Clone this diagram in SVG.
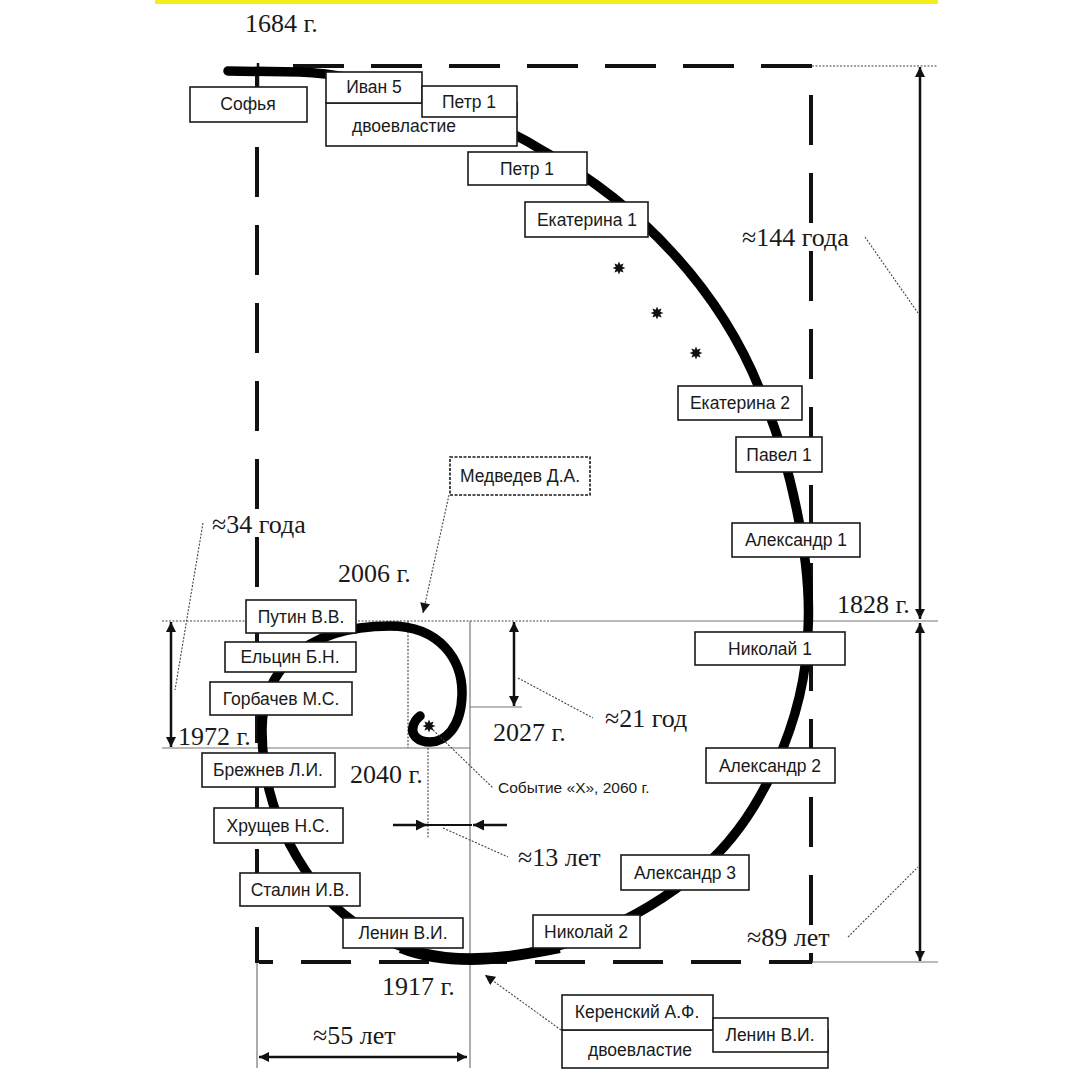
<svg xmlns="http://www.w3.org/2000/svg" width="1080" height="1080" viewBox="0 0 1080 1080">
<style>
.box{fill:#fff;stroke:#1a1a1a;stroke-width:1.6}
.lbl{font-family:"Liberation Sans",Arial,sans-serif;font-size:17.5px;fill:#1a1a1a;text-anchor:middle}
.yr{font-family:"Liberation Serif","Times New Roman",serif;font-size:26px;fill:#1a1a1a}
.dash{stroke:#111;stroke-width:4;stroke-dasharray:50 28;fill:none}
.thin{stroke:#777;stroke-width:1.2;fill:none}
.dot{stroke:#444;stroke-width:1.1;stroke-dasharray:2 1.5;fill:none}
.dim{stroke:#111;stroke-width:2.5;fill:none;marker-start:url(#ah);marker-end:url(#ah)}
.spiral{stroke:#000;stroke-width:9.5;fill:none;stroke-linecap:round;stroke-linejoin:round}
</style>
<defs>
<marker id="ah" viewBox="0 0 10 10" refX="10" refY="5" markerWidth="15" markerHeight="10" markerUnits="userSpaceOnUse" orient="auto-start-reverse"><path d="M0,0 L10,5 L0,10 z" fill="#111"/></marker>
<marker id="ah2" viewBox="0 0 10 10" refX="10" refY="5" markerWidth="16" markerHeight="11" markerUnits="userSpaceOnUse" orient="auto"><path d="M0,0 L10,5 L0,10 z" fill="#111"/></marker>
<path id="star" d="M6.5,0 L3.2,1.3 L4.6,4.6 L1.3,3.2 L0,6.5 L-1.3,3.2 L-4.6,4.6 L-3.2,1.3 L-6.5,0 L-3.2,-1.3 L-4.6,-4.6 L-1.3,-3.2 L0,-6.5 L1.3,-3.2 L4.6,-4.6 L3.2,-1.3 Z" fill="#111"/>
</defs>
<rect width="1080" height="1080" fill="#fff"/>
<rect x="155" y="0" width="783" height="4" fill="#f4ee1c"/>

<g id="guides">
<line class="dash" x1="293" y1="66" x2="812" y2="66" style="stroke-dasharray:51 27"/>
<line class="dot" x1="812" y1="66" x2="938" y2="66"/>
<line class="dash" x1="257" y1="69" x2="257" y2="963"/>
<line class="dash" x1="811" y1="95" x2="811" y2="963"/>
<line class="dash" x1="259" y1="962" x2="273" y2="962" style="stroke-dasharray:none"/>
<line class="dash" x1="301" y1="962" x2="812" y2="962"/>
<line class="thin" x1="812" y1="962" x2="938" y2="962"/>
<line class="dot" x1="162" y1="621" x2="550" y2="621"/>
<line class="thin" x1="550" y1="621" x2="938" y2="621"/>
<line class="thin" x1="162" y1="748" x2="470" y2="748"/>
<line class="thin" x1="470" y1="621" x2="470" y2="1068"/>
<line class="dot" x1="408" y1="621" x2="408" y2="748"/>
<line class="dot" x1="428" y1="748" x2="428" y2="838"/>
<line class="thin" x1="470" y1="707" x2="522" y2="707"/>
<line class="thin" x1="257" y1="963" x2="257" y2="1068"/>
<line x1="258" y1="63" x2="258" y2="87" stroke="#111" stroke-width="2.5"/>
</g>

<g id="connectors">
<path class="spiral" d="M228 71 L300 72 C360 74 470 105 545 152 C640 205 720 290 760 390 C790 460 812 560 808 630 C806 720 760 820 700 870 C640 920 560 958 471 958 C400 958 340 925 305 870 C275 825 262 780 262 730 C262 675 300 626 390 626 C440 626 463 660 462 695 C461 728 445 742 430 742 C418 742 411 735 413 727 C414 722 416 719 420 716"/>
<path d="M560 950 C520 958 490 962 471 962 C440 962 420 958 400 950" stroke="#000" stroke-width="6" fill="none"/>
<line class="dim" x1="920" y1="67" x2="920" y2="619"/>
<line class="dim" x1="920" y1="623" x2="920" y2="961"/>
<line class="dim" x1="171" y1="622" x2="171" y2="747"/>
<line class="dim" x1="514" y1="622" x2="514" y2="706"/>
<line class="dim" x1="259" y1="1057" x2="467" y2="1057"/>
<line x1="393" y1="825" x2="427" y2="825" stroke="#111" stroke-width="2.5" marker-end="url(#ah2)"/>
<line x1="507" y1="825" x2="473" y2="825" stroke="#111" stroke-width="2.5" marker-end="url(#ah2)"/>
<line x1="427" y1="825" x2="472" y2="825" stroke="#111" stroke-width="2"/>
<line class="dot" x1="865" y1="237" x2="918" y2="313"/>
<line class="dot" x1="848" y1="937" x2="918" y2="867"/>
<line class="dot" x1="203" y1="523" x2="175" y2="690"/>
<line class="dot" x1="518" y1="678" x2="593" y2="718"/>
<line class="dot" x1="433" y1="730" x2="493" y2="788"/>
<line class="dot" x1="443" y1="828" x2="508" y2="857"/>
<line class="dot" x1="449" y1="495" x2="423" y2="613" marker-end="url(#ah)"/>
<line class="dot" x1="561" y1="1030" x2="485" y2="975" marker-end="url(#ah)"/>
<use href="#star" x="619" y="268"/>
<use href="#star" x="657" y="313"/>
<use href="#star" x="696" y="353"/>
<use href="#star" x="429" y="726"/>
</g>

<g id="n-sofya"><rect class="box" x="190" y="87" width="117" height="35"/><text class="lbl" x="248" y="110">Софья</text></g>
<g id="n-dvoev1"><rect class="box" x="326" y="103" width="191" height="43"/><text class="lbl" x="404" y="132">двоевластие</text></g>
<g id="n-ivan5"><rect class="box" x="326" y="72" width="96" height="31"/><text class="lbl" x="374" y="93">Иван 5</text></g>
<g id="n-petr1a"><rect class="box" x="422" y="86" width="95" height="31"/><text class="lbl" x="469" y="108">Петр 1</text></g>
<g id="n-petr1b"><rect class="box" x="468" y="152" width="119" height="33"/><text class="lbl" x="527" y="175">Петр 1</text></g>
<g id="n-ekat1"><rect class="box" x="525" y="202" width="123" height="35"/><text class="lbl" x="587" y="226">Екатерина 1</text></g>
<g id="n-ekat2"><rect class="box" x="678" y="386" width="124" height="34"/><text class="lbl" x="740" y="409">Екатерина 2</text></g>
<g id="n-pavel1"><rect class="box" x="736" y="437" width="86" height="35"/><text class="lbl" x="779" y="461">Павел 1</text></g>
<g id="n-alex1"><rect class="box" x="732" y="523" width="128" height="34"/><text class="lbl" x="796" y="546">Александр 1</text></g>
<g id="n-nik1"><rect class="box" x="695" y="632" width="150" height="33"/><text class="lbl" x="770" y="655">Николай 1</text></g>
<g id="n-alex2"><rect class="box" x="706" y="748" width="129" height="35"/><text class="lbl" x="770" y="772">Александр 2</text></g>
<g id="n-alex3"><rect class="box" x="621" y="855" width="128" height="35"/><text class="lbl" x="685" y="879">Александр 3</text></g>
<g id="n-nik2"><rect class="box" x="533" y="915" width="107" height="33"/><text class="lbl" x="586" y="938">Николай 2</text></g>
<g id="n-lenin1"><rect class="box" x="343" y="918" width="120" height="30"/><text class="lbl" x="403" y="939">Ленин В.И.</text></g>
<g id="n-stalin"><rect class="box" x="240" y="873" width="120" height="33"/><text class="lbl" x="300" y="896">Сталин И.В.</text></g>
<g id="n-khrush"><rect class="box" x="214" y="808" width="129" height="35"/><text class="lbl" x="278" y="832">Хрущев Н.С.</text></g>
<g id="n-brezh"><rect class="box" x="202" y="753" width="133" height="34"/><text class="lbl" x="268" y="776">Брежнев Л.И.</text></g>
<g id="n-gorb"><rect class="box" x="210" y="682" width="142" height="33"/><text class="lbl" x="281" y="705">Горбачев М.С.</text></g>
<g id="n-eltsin"><rect class="box" x="225" y="642" width="131" height="30"/><text class="lbl" x="290" y="663">Ельцин Б.Н.</text></g>
<g id="n-putin"><rect class="box" x="246" y="600" width="110" height="33"/><text class="lbl" x="301" y="623">Путин В.В.</text></g>
<g id="n-medv"><rect class="box" x="450" y="457" width="140" height="38" style="stroke-dasharray:3 1.5"/><text class="lbl" x="520" y="482">Медведев Д.А.</text></g>
<g id="n-dvoev2"><rect class="box" x="562" y="1030" width="266" height="38"/><text class="lbl" x="640" y="1056">двоевластие</text></g>
<g id="n-kerensky"><rect class="box" x="562" y="995" width="151" height="35"/><text class="lbl" x="637" y="1018">Керенский А.Ф.</text></g>
<g id="n-lenin2"><rect class="box" x="713" y="1018" width="115" height="34"/><text class="lbl" x="770" y="1041">Ленин В.И.</text></g>

<g id="labels">
<text class="yr" x="245" y="32">1684 г.</text>
<text class="yr" x="742" y="246">≈144 года</text>
<text class="yr" x="212" y="533">≈34 года</text>
<text class="yr" x="338" y="582">2006 г.</text>
<text class="yr" x="837" y="613">1828 г.</text>
<text class="yr" x="605" y="727">≈21 год</text>
<text class="yr" x="493" y="741">2027 г.</text>
<text class="yr" x="178" y="745">1972 г.</text>
<text class="yr" x="350" y="783">2040 г.</text>
<text class="lbl" x="498" y="793" style="text-anchor:start;font-size:15.5px">Событие «Х», 2060 г.</text>
<text class="yr" x="518" y="866">≈13 лет</text>
<text class="yr" x="747" y="946">≈89 лет</text>
<text class="yr" x="382" y="995">1917 г.</text>
<text class="yr" x="313" y="1044">≈55 лет</text>
</g>
</svg>
